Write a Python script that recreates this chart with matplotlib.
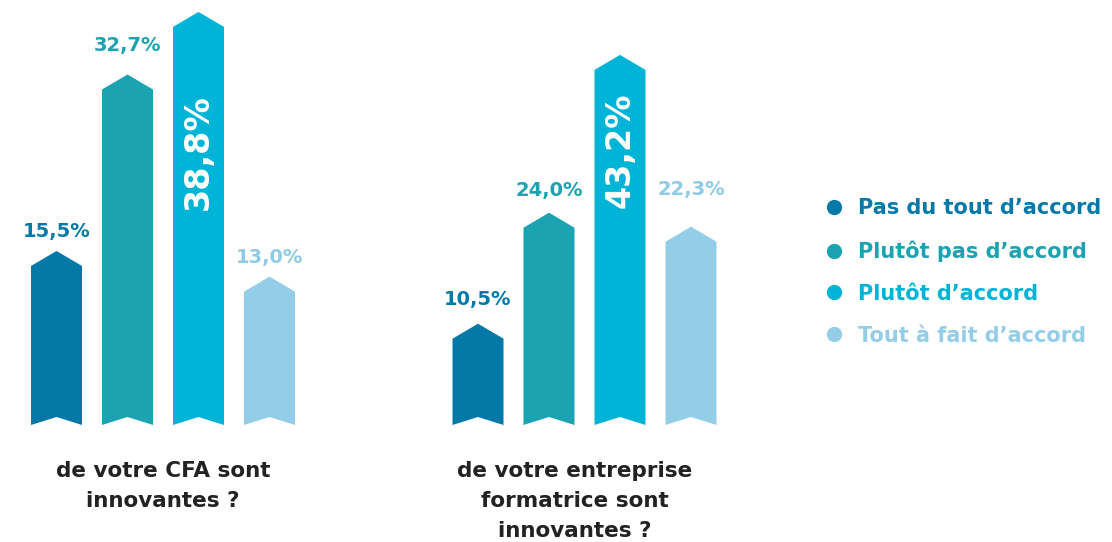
import numpy as np
import matplotlib.pyplot as plt
from matplotlib.patches import Polygon
from matplotlib.lines import Line2D

answers = ['Pas du tout d\u2019accord', 'Plut\u00f4t pas d\u2019accord',
           'Plut\u00f4t d\u2019accord', 'Tout \u00e0 fait d\u2019accord']
colors = ['#0479a8', '#1ba3b1', '#00b4d7', '#94cde7']
questions = ['de votre CFA sont\ninnovantes ?',
             'de votre entreprise\nformatrice sont\ninnovantes ?']
cfa = [15.5, 32.7, 38.8, 13.0]
entreprise = [10.5, 24.0, 43.2, 22.3]

plt.rcParams['font.family'] = ['DejaVu Sans']
W, H = 1112, 542
fig = plt.figure(figsize=(W/100, H/100), dpi=100)

base = 425        # bottom of bars (px from top)
step = 71         # px between bar centres
bw = 51 / step    # bar width in category units
tip_px, notch_px = 15, 8

def fr(v):
    return ('%.1f%%' % v).replace('.', ',')

def draw_group(vals, first_center, px_per_pct, lab_off, inner_off, question, q_x):
    ax = fig.add_axes([(first_center - step/2)/W, (H - base)/H, 4*step/W, base/H])
    top = base / px_per_pct
    ax.set_xlim(-0.5, 3.5)
    ax.set_ylim(0, top)
    ax.axis('off')
    tip = tip_px / px_per_pct
    notch = notch_px / px_per_pct
    for i, v in enumerate(vals):
        l, r = i - bw/2, i + bw/2
        pts = [(l, 0), (i, notch), (r, 0), (r, v), (i, v + tip), (l, v)]
        ax.add_patch(Polygon(pts, closed=True, fc=colors[i], ec='none'))
        if i == 2:
            ax.annotate(fr(v), xy=(i, v), xytext=(0, -inner_off), textcoords='offset pixels',
                        rotation=90, ha='center', va='center', color='white',
                        fontsize=24, fontweight='bold')
        else:
            ax.annotate(fr(v), xy=(i, v + tip), xytext=(0, lab_off[i]), textcoords='offset pixels',
                        ha='center', va='center', color=colors[i] if i != 3 else '#8fcbe6',
                        fontsize=14, fontweight='bold')
    fig.text(q_x/W, 1 - 461/H, question, ha='center', va='top', fontsize=15.5,
             fontweight='bold', color='#222222', linespacing=1.62)

draw_group(cfa, 56.5, 10.26, [19, 29, 0, 19], 125, questions[0], 163)
draw_group(entreprise, 478, 8.22, [24, 22, 0, 37], 80, questions[1], 575)

handles = [Line2D([], [], ls='none', marker='o', ms=11, mfc=c, mec='none') for c in colors]
fig.legend(handles, answers, loc='center left', bbox_to_anchor=(805/W, 1 - 272/H),
           frameon=False, labelcolor=colors, handletextpad=0.65,
           labelspacing=1.05, handlelength=1.0, prop={'weight': 'bold', 'size': 15})

fig.savefig('out.png', dpi=100)
